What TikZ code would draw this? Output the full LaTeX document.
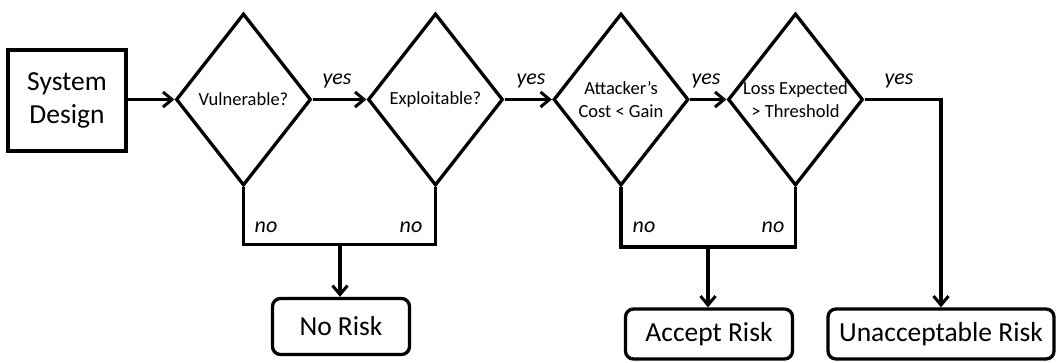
\documentclass[tikz,border=0pt]{standalone}
\usepackage{fontspec}
\setmainfont{Carlito}
\usetikzlibrary{shapes.geometric,arrows.meta}
\begin{document}
\begin{tikzpicture}[x=1pt,y=-1pt,
  line width=3.3pt,
  every node/.style={inner sep=0pt},
  flow/.style={-{Straight Barb[length=9pt,width=15pt,line width=3pt]}},
  plain/.style={line join=miter},
  startbox/.style={draw, rectangle, minimum width=118pt, minimum height=101pt,
    align=center, font=\fontsize{27.5}{33}\selectfont},
  decision/.style={draw, diamond, aspect=0.78, minimum width=135pt, minimum height=172pt,
    align=center, font=\fontsize{18.5}{23}\selectfont},
  outcome/.style={draw, rectangle, rounded corners=8pt, minimum height=50pt,
    font=\fontsize{27.5}{32}\selectfont},
  answer/.style={anchor=base, font=\fontsize{22}{24}\itshape}
]
\useasboundingbox (0,0) rectangle (1058,362);

% process start and the four decisions
\node[startbox] (sd) at (67,100.5) {System\\Design};
\node[decision] (d1) at (243.5,99.5) {Vulnerable?};
\node[decision] (d2) at (435.5,99.5) {Exploitable?};
\node[decision] (d3) at (621,99.5) {Attacker’s\\Cost < Gain};
\node[decision] (d4) at (795.5,99.5) {Loss Expected\\> Threshold};

% outcomes
\node[outcome, minimum width=137pt, minimum height=56pt] (norisk) at (341,326.5) {No Risk};
\node[outcome, minimum width=167pt] (accept) at (709,334) {Accept Risk};
\node[outcome, minimum width=226pt] (unacc) at (941,334) {Unacceptable Risk};

% junction points of the "no" branches
\coordinate (j1) at (340,244.5);
\coordinate (j2) at (708,247);

% "yes" chain
\draw[flow] (sd.east |- d1.west) -- (d1.west);
\draw[flow] (d1.east) -- (d2.west);
\draw[flow] (d2.east) -- (d3.west);
\draw[flow] (d3.east) -- (d4.west);
\draw[flow] (d4.east) -| (unacc.north);

% "no" branches
\draw[plain] (d1.south) -- (d1.south |- j1) -- (d2.south |- j1) -- (d2.south);
\draw[flow] (j1) -- (norisk.north -| j1);
\draw[plain] (d3.south) -- (d3.south |- j2) -- (d4.south |- j2) -- (d4.south);
\draw[flow] (j2) -- (accept.north -| j2);

% branch labels
\node[answer] (y1) at (337,84) {yes};
\node[answer] (y2) at (531,84) {yes};
\node[answer] (y3) at (706,84) {yes};
\node[answer] (y4) at (899,84) {yes};
\node[answer] (n1) at (266,232) {no};
\node[answer] (n2) at (411,232) {no};
\node[answer] (n3) at (644,232) {no};
\node[answer] (n4) at (773,232) {no};
\end{tikzpicture}
\end{document}
